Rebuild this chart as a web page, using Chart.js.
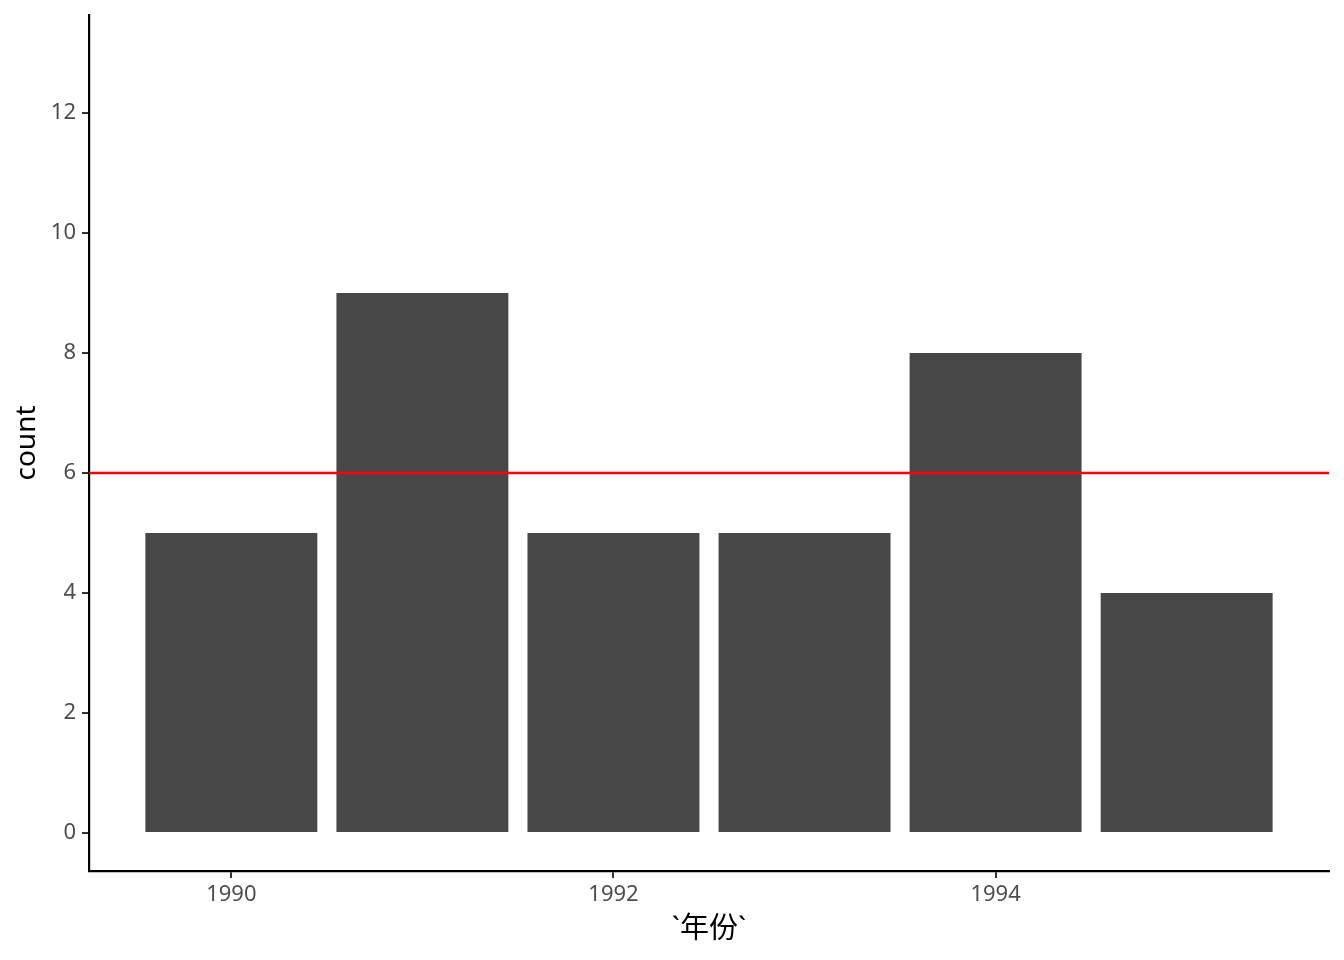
<!doctype html>
<html lang="zh">
  <head>
    <meta charset="utf-8">
    <title>count by 年份</title>
    <script src="https://cdn.jsdelivr.net/npm/chart.js"></script>
    <style>
      html, body { margin: 0; padding: 0; background: #fff; }
      #wrap { width: 1344px; height: 960px; }
    </style>
  </head>
  <body>
    <div id="wrap">
      <canvas id="countChart"></canvas>
    </div>

    <script>
        // data
        const years = [1990, 1991, 1992, 1993, 1994, 1995];
        const counts = [5, 9, 5, 5, 8, 4];
        const refLine = 6;
        const xTicks = [1990, 1992, 1994];
        const yTicks = [0, 2, 4, 6, 8, 10, 12];

        const fontFamily = "'Noto Sans', 'Noto Sans CJK SC', sans-serif";

        // red reference line across the panel
        const hlinePlugin = {
            id: 'hline',
            afterDatasetsDraw(chart) {
                const {ctx, chartArea, scales} = chart;
                const y = scales.y.getPixelForValue(refLine);
                ctx.save();
                ctx.strokeStyle = '#FF0000';
                ctx.lineWidth = 2.4;
                ctx.beginPath();
                ctx.moveTo(chartArea.left, y);
                ctx.lineTo(chartArea.right, y);
                ctx.stroke();
                ctx.restore();
            }
        };

        const countChart = new Chart(document.getElementById('countChart'), {
            type: 'bar',
            data: {
                datasets: [{
                    label: 'count',
                    data: years.map((yr, i) => ({x: yr, y: counts[i]})),
                    backgroundColor: '#474747',
                    borderWidth: 0,
                    barPercentage: 0.9,
                    categoryPercentage: 1.0
                }]
            },
            options: {
                responsive: true,
                maintainAspectRatio: false,
                animation: false,
                layout: { padding: { top: 15, right: 15, left: 0, bottom: 0 } },
                plugins: {
                    legend: { display: false },
                    tooltip: { enabled: false }
                },
                scales: {
                    x: {
                        type: 'linear',
                        min: 1989.255,
                        max: 1995.745,
                        offset: false,
                        afterBuildTicks: (scale) => { scale.ticks = xTicks.map(v => ({value: v})); },
                        afterFit: (scale) => {
                            scale.height = 89;
                            scale.paddingLeft = 0;
                            scale.paddingRight = 0;
                        },
                        grid: {
                            display: true, drawOnChartArea: false, drawTicks: true, offset: false,
                            tickLength: 7, color: '#333333', lineWidth: 2
                        },
                        border: { display: true, color: '#000000', width: 2.2 },
                        ticks: {
                            color: '#4D4D4D', padding: 4, maxRotation: 0,
                            font: { family: fontFamily, size: 22 },
                            callback: (v) => String(v)
                        },
                        title: {
                            display: true, text: '`年份`', color: '#000000',
                            font: { family: fontFamily, size: 29 },
                            padding: { top: 0, bottom: 13 }
                        }
                    },
                    y: {
                        min: -0.635,
                        max: 13.635,
                        afterBuildTicks: (scale) => { scale.ticks = yTicks.map(v => ({value: v})); },
                        afterFit: (scale) => {
                            scale.width = 89;
                            scale.paddingTop = 0;
                            scale.paddingBottom = 0;
                        },
                        grid: {
                            display: true, drawOnChartArea: false, drawTicks: true,
                            tickLength: 7, color: '#333333', lineWidth: 2
                        },
                        border: { display: true, color: '#000000', width: 2.2 },
                        ticks: {
                            color: '#4D4D4D', padding: 6,
                            font: { family: fontFamily, size: 22 }
                        },
                        title: {
                            display: true, text: 'count', color: '#000000',
                            font: { family: fontFamily, size: 28 },
                            padding: { top: 10, bottom: 0 }
                        }
                    }
                }
            },
            plugins: [hlinePlugin]
        });
    </script>
  </body>
</html>
